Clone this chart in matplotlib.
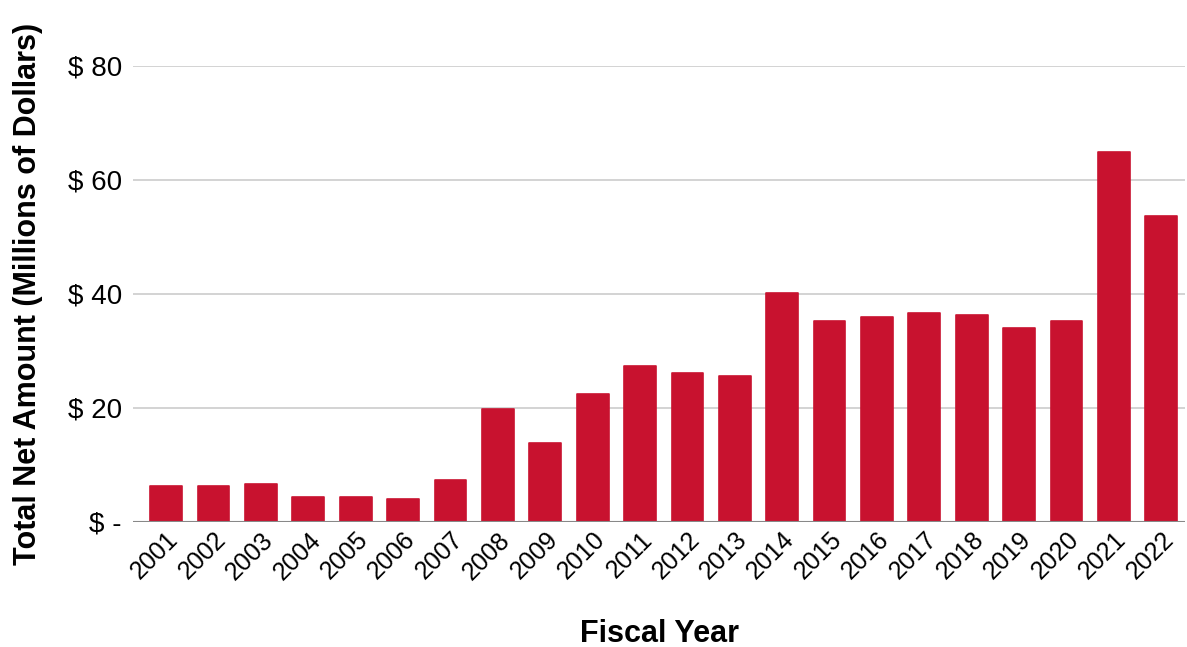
"""
Bar chart of total net amount by fiscal year.
"""

import matplotlib.pyplot as plt
from matplotlib.ticker import FixedLocator

plt.rcParams["font.family"] = ["Liberation Sans", "DejaVu Sans"]

years = [str(y) for y in range(2001, 2023)]
amounts = [6.3, 6.3, 6.7, 4.4, 4.4, 4.1, 7.4, 19.8, 13.9, 22.4, 27.3,
           26.1, 25.7, 40.1, 35.2, 35.9, 36.6, 36.3, 34.0, 35.2, 65.0, 53.7]
y_ticks = [0, 20, 40, 60, 80]
y_tick_labels = ["$ -", "$ 20", "$ 40", "$ 60", "$ 80"]

BAR_COLOR = "#C8122F"

fig = plt.figure(figsize=(11.87, 6.47), dpi=100)
ax = fig.add_axes([133 / 1187, 1 - 522 / 647, 1052 / 1187, (522 - 66) / 647])

x = list(range(len(years)))
ax.bar(x, amounts, width=0.67, color=BAR_COLOR, edgecolor=BAR_COLOR,
       linewidth=1.2, joinstyle="round", zorder=3)

ax.set_ylim(0, 80)
ax.set_xlim(-0.7, len(years) - 0.5)
ax.yaxis.set_major_locator(FixedLocator(y_ticks))
ax.set_yticklabels(y_tick_labels, fontsize=20)
ax.set_xticks(x)
ax.set_xticklabels(years, fontsize=18, rotation=45, ha="right",
                   rotation_mode="anchor")

ax.grid(axis="y", color="#CCCCCC", linewidth=1.2, zorder=0)
ax.axhline(0, color="#888888", linewidth=1.5, zorder=4)
for side in ["top", "right", "left", "bottom"]:
    ax.spines[side].set_visible(False)
ax.tick_params(axis="both", length=0)
ax.tick_params(axis="y", pad=8)
ax.tick_params(axis="x", pad=4)

ax.set_ylabel("Total Net Amount (Millions of Dollars)", fontsize=22,
              fontweight="bold", labelpad=18)
ax.set_xlabel("Fiscal Year", fontsize=22, fontweight="bold", labelpad=25)

fig.savefig("out.png", dpi=100, facecolor="white")
plt.close()
